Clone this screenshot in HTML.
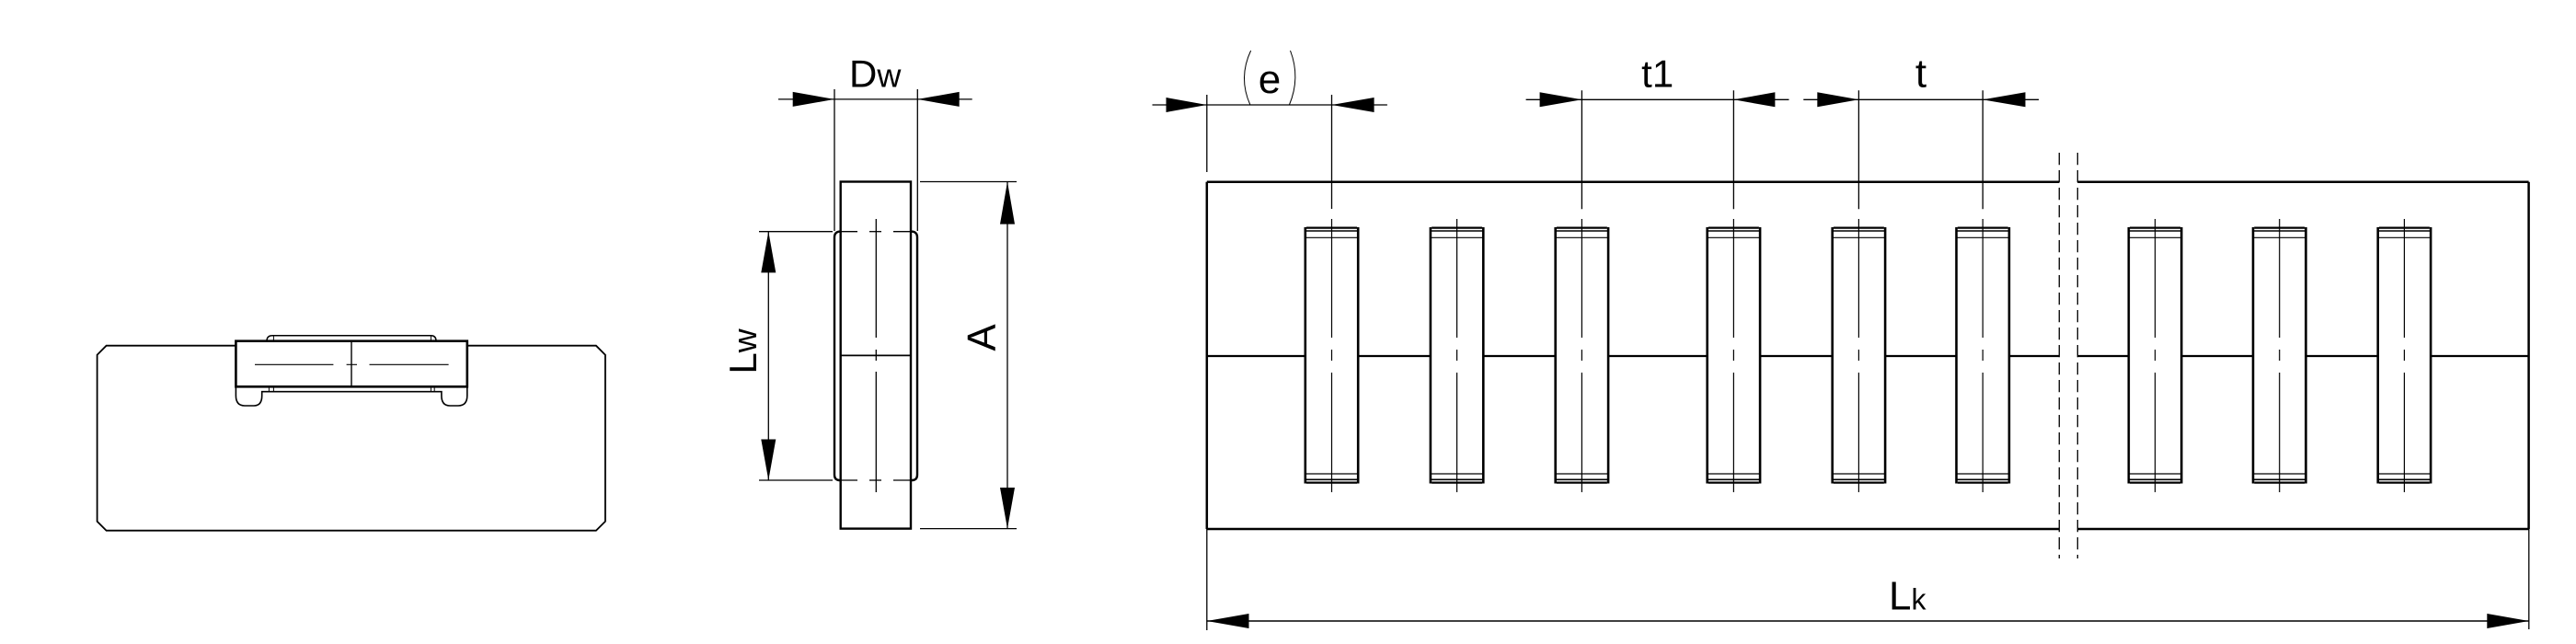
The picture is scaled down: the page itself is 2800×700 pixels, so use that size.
<!DOCTYPE html>
<html><head><meta charset="utf-8"><style>
html,body{margin:0;padding:0;background:#fff;}
svg{display:block;}
text{font-family:"Liberation Sans",sans-serif;fill:#000;}
</style></head><body>
<svg width="2800" height="700" viewBox="0 0 2800 700" xmlns="http://www.w3.org/2000/svg">
<defs>
<g id="r" stroke="#000" fill="none">
 <line x1="-28.7" y1="247" x2="-28.7" y2="525.5" stroke-width="2.6"/>
 <line x1="28.7" y1="247" x2="28.7" y2="525.5" stroke-width="2.6"/>
 <line x1="-27.5" y1="247.6" x2="27.5" y2="247.6" stroke-width="2.2"/>
 <line x1="-28.7" y1="251" x2="28.7" y2="251" stroke-width="1.6"/>
 <line x1="-28.7" y1="258.3" x2="28.7" y2="258.3" stroke-width="1.2"/>
 <line x1="-27.5" y1="524.6" x2="27.5" y2="524.6" stroke-width="2.2"/>
 <line x1="-28.7" y1="521.3" x2="28.7" y2="521.3" stroke-width="1.6"/>
 <line x1="-28.7" y1="515" x2="28.7" y2="515" stroke-width="1.2"/>
 <line x1="0" y1="238" x2="0" y2="367" stroke-width="1.2"/>
 <line x1="0" y1="380" x2="0" y2="392" stroke-width="1.2"/>
 <line x1="0" y1="405" x2="0" y2="535" stroke-width="1.2"/>
</g>
</defs>

<!-- LEFT VIEW -->
<g stroke="#000" fill="none" stroke-width="1.8">
 <path d="M256.4,375.7 L115.6,375.7 L105.6,385.7 L105.6,566.7 L115.6,576.7 L647.9,576.7 L657.9,566.7 L657.9,385.7 L647.9,375.7 L507.8,375.7"/>
 <rect x="256.4" y="370.7" width="251.4" height="49.6" stroke-width="2.6"/>
 <path d="M290,370.7 Q290,364.7 296,364.7 L468.5,364.7 Q474,364.7 474,370.7" stroke-width="1.5"/>
 <line x1="297.4" y1="364.7" x2="297.4" y2="370.7" stroke-width="1"/>
 <line x1="468.4" y1="364.7" x2="468.4" y2="370.7" stroke-width="1"/>
 <line x1="292.4" y1="420.3" x2="292.4" y2="425.7" stroke-width="1"/>
 <line x1="297.4" y1="420.3" x2="297.4" y2="425.7" stroke-width="1"/>
 <line x1="468.4" y1="420.3" x2="468.4" y2="425.7" stroke-width="1"/>
 <line x1="472.2" y1="420.3" x2="472.2" y2="425.7" stroke-width="1"/>
 <path d="M256.4,420.3 L256.4,430 Q256.4,441 266,441 L276,441 Q284.7,441 284.7,430 L284.7,425.7 L479.9,425.7 L479.9,430 Q479.9,441 489,441 L498,441 Q507.8,441 507.8,430 L507.8,420.3" stroke-width="1.6"/>
 <line x1="382" y1="370.7" x2="382" y2="420.3" stroke-width="1.4"/>
 <line x1="277" y1="396.3" x2="362.4" y2="396.3" stroke-width="1.1"/>
 <line x1="376.6" y1="396.3" x2="388" y2="396.3" stroke-width="1.1"/>
 <line x1="401.5" y1="396.3" x2="487.6" y2="396.3" stroke-width="1.1"/>
</g>

<!-- MIDDLE VIEW -->
<g stroke="#000" fill="none">
 <rect x="913.7" y="197.5" width="76.3" height="377.1" stroke-width="2.4"/>
 <line x1="913.7" y1="386.4" x2="990" y2="386.4" stroke-width="1.8"/>
 <path d="M913,251.7 L912,251.7 Q907,252.5 907,258 L907,516 Q907,521.5 912,522 L913,522" stroke-width="2.4"/>
 <path d="M990.5,251.7 L992,251.7 Q997,252.5 997,258 L997,516 Q997,521.5 992,522 L990.5,522" stroke-width="2.4"/>
 <g stroke-width="1.3">
  <line x1="914" y1="251.7" x2="932" y2="251.7"/><line x1="945" y1="251.7" x2="958" y2="251.7"/><line x1="971" y1="251.7" x2="990" y2="251.7"/>
  <line x1="914" y1="522" x2="932" y2="522"/><line x1="945" y1="522" x2="958" y2="522"/><line x1="971" y1="522" x2="990" y2="522"/>
  <line x1="952.3" y1="238" x2="952.3" y2="367"/>
  <line x1="952.3" y1="380" x2="952.3" y2="392"/>
  <line x1="952.3" y1="404" x2="952.3" y2="535"/>
  <!-- Dw ext -->
  <line x1="907" y1="97" x2="907" y2="251"/>
  <line x1="997.3" y1="97" x2="997.3" y2="251"/>
  <line x1="846" y1="107.9" x2="1056.7" y2="107.9"/>
  <!-- Lw -->
  <line x1="825" y1="251.7" x2="905" y2="251.7"/>
  <line x1="825" y1="522" x2="905" y2="522"/>
  <line x1="835.3" y1="251.7" x2="835.3" y2="522"/>
  <!-- A -->
  <line x1="1000" y1="197.5" x2="1105" y2="197.5"/>
  <line x1="1000" y1="574.6" x2="1105" y2="574.6"/>
  <line x1="1095" y1="197.5" x2="1095" y2="574.6"/>
 </g>
</g>
<g fill="#000" stroke="none">
 <polygon points="907,107.9 861.7,99.9 861.7,115.9"/>
 <polygon points="997.3,107.9 1042.7,99.9 1042.7,115.9"/>
 <polygon points="835.3,251.7 827.3,296.4 843.3,296.4"/>
 <polygon points="835.3,522 827.3,477.5 843.3,477.5"/>
 <polygon points="1095,197.5 1087,243.6 1103,243.6"/>
 <polygon points="1095,574.6 1087,530 1103,530"/>
</g>
<text x="923" y="94.3" font-size="42">D<tspan font-size="36">w</tspan></text>
<text transform="translate(822,382) rotate(-90)" text-anchor="middle" font-size="42">L<tspan font-size="36">w</tspan></text>
<text transform="translate(1082,367) rotate(-90)" text-anchor="middle" font-size="44">A</text>

<!-- RIGHT VIEW -->
<g stroke="#000" fill="none" stroke-width="2.5">
 <line x1="1311.8" y1="197.7" x2="2238.3" y2="197.7"/>
 <line x1="2258.3" y1="197.7" x2="2748.6" y2="197.7"/>
 <line x1="1311.8" y1="575" x2="2238.3" y2="575"/>
 <line x1="2258.3" y1="575" x2="2748.6" y2="575"/>
 <line x1="1311.8" y1="197.7" x2="1311.8" y2="575"/>
 <line x1="2748.6" y1="197.7" x2="2748.6" y2="575"/>
 <!-- mid line -->
 <g stroke-width="2.2">
  <line x1="1311.8" y1="387" x2="1418.8" y2="387"/>
  <line x1="1476.2" y1="387" x2="1554.9" y2="387"/>
  <line x1="1612.3" y1="387" x2="1690.7" y2="387"/>
  <line x1="1748.1" y1="387" x2="1855.7" y2="387"/>
  <line x1="1913.1" y1="387" x2="1991.7" y2="387"/>
  <line x1="2049.1" y1="387" x2="2126.5" y2="387"/>
  <line x1="2183.9" y1="387" x2="2238.3" y2="387"/>
  <line x1="2258.3" y1="387" x2="2313.8" y2="387"/>
  <line x1="2371.2" y1="387" x2="2449" y2="387"/>
  <line x1="2506.4" y1="387" x2="2584.7" y2="387"/>
  <line x1="2642.1" y1="387" x2="2748.6" y2="387"/>
 </g>
</g>
<use href="#r" x="1447.5"/>
<use href="#r" x="1583.6"/>
<use href="#r" x="1719.4"/>
<use href="#r" x="1884.4"/>
<use href="#r" x="2020.4"/>
<use href="#r" x="2155.2"/>
<use href="#r" x="2342.5"/>
<use href="#r" x="2477.7"/>
<use href="#r" x="2613.4"/>

<!-- break lines -->
<g stroke="#000" stroke-width="1.3" stroke-dasharray="13.3,5.7">
 <line x1="2238.3" y1="166" x2="2238.3" y2="607"/>
 <line x1="2258.3" y1="166" x2="2258.3" y2="607"/>
</g>

<!-- dimension lines -->
<g stroke="#000" stroke-width="1.3" fill="none">
 <line x1="1311.8" y1="103" x2="1311.8" y2="187"/>
 <line x1="1447.5" y1="103" x2="1447.5" y2="227"/>
 <line x1="1252.5" y1="114" x2="1507.9" y2="114"/>
 <line x1="1719.4" y1="98.3" x2="1719.4" y2="227.3"/>
 <line x1="1884.4" y1="98.3" x2="1884.4" y2="227.3"/>
 <line x1="1658.6" y1="108.3" x2="1944.5" y2="108.3"/>
 <line x1="2020.4" y1="98.3" x2="2020.4" y2="227.3"/>
 <line x1="2155.2" y1="98.3" x2="2155.2" y2="227.3"/>
 <line x1="1960.3" y1="108.3" x2="2216.1" y2="108.3"/>
 <line x1="1311.8" y1="575" x2="1311.8" y2="685"/>
 <line x1="2748.8" y1="575" x2="2748.8" y2="684"/>
 <line x1="1311.8" y1="675" x2="2748.8" y2="675" stroke-width="1.6"/>
 <path d="M1359.6,55 Q1345.7,84.5 1358.9,114" stroke-width="1"/>
 <path d="M1402.5,55 Q1413.8,84.5 1401.4,114" stroke-width="1"/>
</g>
<g fill="#000" stroke="none">
 <polygon points="1311.8,114 1267.5,106 1267.5,122"/>
 <polygon points="1447.5,114 1493.6,106 1493.6,122"/>
 <polygon points="1719.4,108.3 1673.6,100.3 1673.6,116.3"/>
 <polygon points="1884.4,108.3 1929.4,100.3 1929.4,116.3"/>
 <polygon points="2020.4,108.3 1975.3,100.3 1975.3,116.3"/>
 <polygon points="2155.2,108.3 2201.5,100.3 2201.5,116.3"/>
 <polygon points="1311.8,675 1357.5,667 1357.5,683"/>
 <polygon points="2748.8,675 2703.3,667 2703.3,683"/>
</g>
<text x="1380" y="101" text-anchor="middle" font-size="44">e</text>
<text x="1801.7" y="94.3" text-anchor="middle" font-size="42">t1</text>
<text x="2088" y="94.3" text-anchor="middle" font-size="44">t</text>
<text x="2053" y="662.7" font-size="44">L<tspan font-size="32">k</tspan></text>
</svg>
</body></html>
